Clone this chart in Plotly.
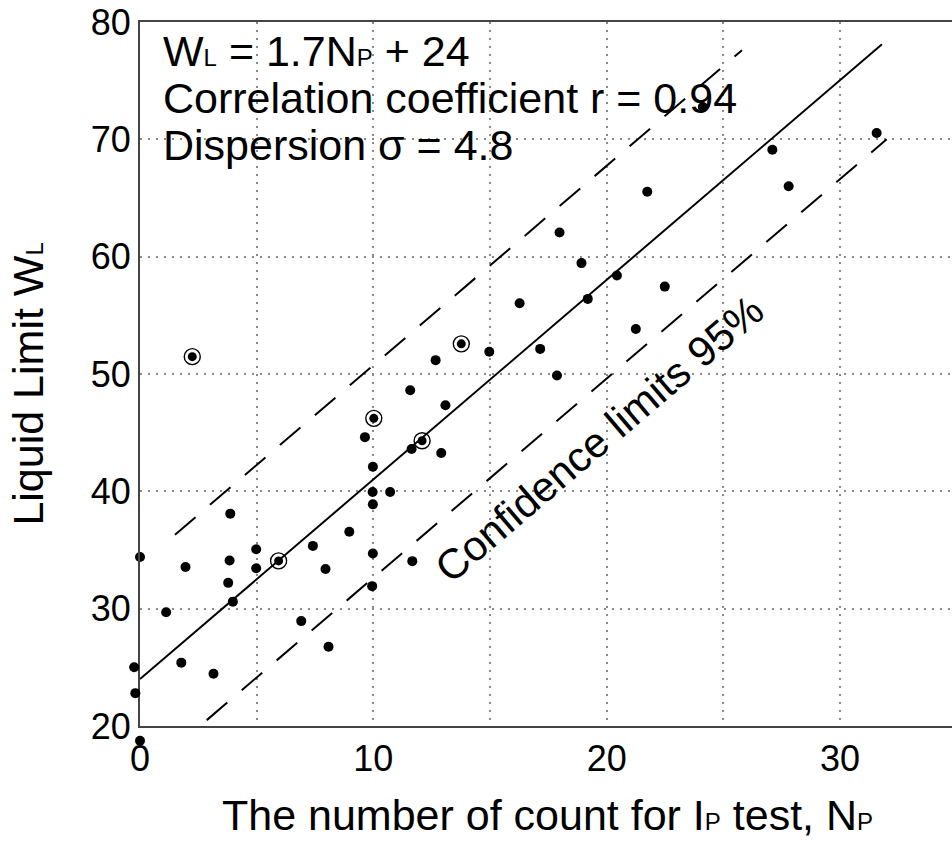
import plotly.graph_objects as go

# Measured points (N_P, W_L) inside the axes
pts_x = [0, 1.12, 1.77, 1.95, 3.15, 3.87, 3.84, 3.78, 3.98, 4.98, 4.98,
         6.91, 7.41, 7.95, 8.08, 8.97, 9.64, 9.98, 9.97, 9.98, 9.98, 9.95, 10.72, 11.64,
         11.67, 11.58, 12.67, 12.91, 13.09, 14.97, 16.27, 17.15, 17.87, 17.98, 18.92,
         19.19, 20.44, 21.25, 21.74, 22.49, 24.12, 27.1, 27.8, 31.57]
pts_y = [34.4, 29.7, 25.4, 33.55, 24.45, 38.1, 34.1, 32.2, 30.6, 35.06, 33.44,
         28.94, 35.35, 33.38, 26.75, 36.55, 44.62, 42.09, 39.94, 38.89, 34.7, 31.92, 39.94, 43.61,
         34.05, 48.62, 51.18, 43.27, 47.33, 51.9, 56.03, 52.14, 49.87, 62.06, 59.45,
         56.4, 58.39, 53.84, 65.53, 57.45, 72.76, 69.11, 66.0, 70.54]

# Points drawn slightly outside the axes frame in the original
out_x = [-0.25, -0.2, 0]
out_y = [25.0, 22.8, 18.75]

# Circled points
circ_x = [2.24, 5.94, 10.02, 12.09, 13.77]
circ_y = [51.48, 34.07, 46.22, 44.31, 52.57]

# Regression line and 95% confidence limits (end points)
fit_x = [0, 31.8]
fit_y = [24.0, 78.1]
upper_x = [1.5, 25.8]
upper_y = [36.3, 77.6]
lower_x = [2.86, 32.0]
lower_y = [20.5, 70.0]

x_range = [0, 34.8]
y_range = [20, 80]
x_ticks = [0, 5, 10, 15, 20, 25, 30]
x_ticktext = ["0", "", "10", "", "20", "", "30"]
y_ticks = [20, 30, 40, 50, 60, 70, 80]

W, H = 952, 841
L_PX, R_PX, T_PX, B_PX = 140, 0, 22, 115   # plot-area offsets in pixels

FONT = "Liberation Sans, Arial, sans-serif"

# second (invisible) subplot spanning the whole figure with identical scaling
px_per_x = (W - L_PX - R_PX) / (x_range[1] - x_range[0])
px_per_y = (H - T_PX - B_PX) / (y_range[1] - y_range[0])
x2_range = [x_range[0] - L_PX / px_per_x, x_range[1] + R_PX / px_per_x]
y2_range = [y_range[0] - B_PX / px_per_y, y_range[1] + T_PX / px_per_y]

fig = go.Figure()
fig.add_trace(go.Scatter(x=fit_x, y=fit_y, mode="lines",
                         line=dict(color="black", width=2), hoverinfo="skip"))
fig.add_trace(go.Scatter(x=upper_x, y=upper_y, mode="lines",
                         line=dict(color="black", width=2, dash="27px,19px"), hoverinfo="skip"))
fig.add_trace(go.Scatter(x=lower_x, y=lower_y, mode="lines",
                         line=dict(color="black", width=2, dash="27px,19px"), hoverinfo="skip"))
fig.add_trace(go.Scatter(x=pts_x, y=pts_y, mode="markers", cliponaxis=False,
                         marker=dict(color="black", size=10, line=dict(width=0))))
fig.add_trace(go.Scatter(x=circ_x, y=circ_y, mode="markers", cliponaxis=False,
                         marker=dict(color="black", size=9, line=dict(width=0))))
fig.add_trace(go.Scatter(x=circ_x, y=circ_y, mode="markers", cliponaxis=False,
                         marker=dict(symbol="circle-open", color="black", size=16,
                                     line=dict(width=1.4, color="black"))))
fig.add_trace(go.Scatter(x=out_x, y=out_y, mode="markers", cliponaxis=False,
                         xaxis="x2", yaxis="y2",
                         marker=dict(color="black", size=10, line=dict(width=0))))

sub = "<span style='font-size:24px'>{}</span>"
anns = [
    dict(text="W" + sub.format("L") + " = 1.7N" + sub.format("P") + " + 24", x=0.9, y=77.5),
    dict(text="Correlation coefficient r = 0.94", x=0.9, y=73.55),
    dict(text="Dispersion σ = 4.8", x=0.9, y=69.55),
]
for a in anns:
    fig.add_annotation(text=a["text"], x=a["x"], y=a["y"], xref="x", yref="y",
                       xanchor="left", yanchor="middle", showarrow=False,
                       font=dict(family=FONT, size=43, color="black"))

fig.add_annotation(text="Confidence limits 95%", x=19.69, y=44.54, xref="x", yref="y",
                   xanchor="center", yanchor="middle", showarrow=False, textangle=-40.5,
                   font=dict(family=FONT, size=42, color="black"))

fig.add_annotation(text="Liquid Limit W" + sub.format("L"), x=27.6 / W, y=1 - 384 / H,
                   xref="paper", yref="paper", xanchor="center", yanchor="middle",
                   showarrow=False, textangle=-90,
                   font=dict(family=FONT, size=43, color="black"))
fig.add_annotation(text="The number of count for I" + sub.format("P") + " test, N" + sub.format("P"),
                   x=547 / W, y=1 - 815 / H, xref="paper", yref="paper", xanchor="center",
                   yanchor="middle", showarrow=False,
                   font=dict(family=FONT, size=43, color="black"))

grid = dict(showgrid=True, gridcolor="#8a8a8a", gridwidth=1.5, griddash="2px,6px",
            zeroline=False, ticks="", showline=True, linecolor="#444", linewidth=2,
            automargin=False, tickfont=dict(family=FONT, size=36, color="black"))
fig.update_layout(
    width=W, height=H, margin=dict(l=0, r=0, t=0, b=0, pad=0, autoexpand=False),
    plot_bgcolor="rgba(0,0,0,0)", paper_bgcolor="white", showlegend=False,
    xaxis=dict(range=x_range, tickvals=x_ticks, ticktext=x_ticktext, mirror=True,
               domain=[L_PX / W, 1 - R_PX / W], anchor="y", **grid),
    yaxis=dict(range=y_range, tickvals=y_ticks, mirror=False,
               domain=[B_PX / H, 1 - T_PX / H], anchor="x", **grid),
    xaxis2=dict(range=x2_range, domain=[0, 1], anchor="y2", visible=False,
                showgrid=False, zeroline=False),
    yaxis2=dict(range=y2_range, domain=[0, 1], anchor="x2", visible=False,
                showgrid=False, zeroline=False),
)

fig.write_html("out.html")
